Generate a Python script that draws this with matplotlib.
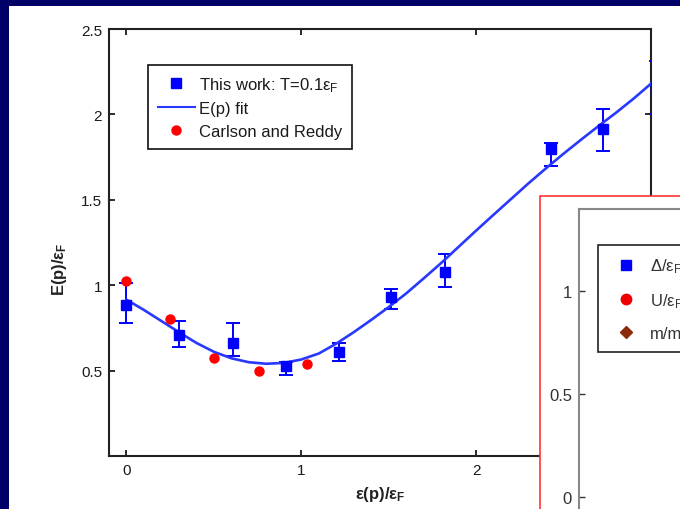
import matplotlib
matplotlib.use("Agg")
import matplotlib.pyplot as plt
from matplotlib.lines import Line2D
from matplotlib.patches import Rectangle

plt.rcParams['font.family'] = ['Liberation Sans', 'DejaVu Sans']
plt.rcParams['mathtext.default'] = 'regular'

# Quasiparticle dispersion, T = 0.1 eps_F
qmc_x = [0.0, 0.30, 0.61, 0.91, 1.215, 1.515, 1.82, 2.43, 2.725, 3.03]
qmc_y = [0.887, 0.709, 0.662, 0.529, 0.611, 0.93, 1.08, 1.80, 1.917, 2.15]
qmc_hi = [1.012, 0.79, 0.778, 0.553, 0.66, 0.975, 1.18, 1.833, 2.034, 2.31]
qmc_lo = [0.78, 0.64, 0.588, 0.475, 0.555, 0.862, 0.989, 1.70, 1.786, 2.00]

# Fitted E(p)
fit_x = [0.0, 0.1, 0.2, 0.3, 0.4, 0.5, 0.6, 0.7, 0.8, 0.9, 1.0,
         1.1, 1.2, 1.3, 1.4, 1.5, 1.6, 1.7, 1.8, 1.9, 2.0,
         2.1, 2.2, 2.3, 2.4, 2.5, 2.6, 2.7, 2.8, 2.9, 3.0]
fit_y = [0.915, 0.855, 0.79, 0.725, 0.662, 0.61, 0.572, 0.549, 0.540, 0.545, 0.565,
         0.60, 0.658, 0.725, 0.797, 0.872, 0.952, 1.04, 1.13, 1.225, 1.32,
         1.413, 1.505, 1.597, 1.685, 1.77, 1.852, 1.932, 2.01, 2.092, 2.18]

# Carlson and Reddy
cr_x = [0.0, 0.25, 0.50, 0.76, 1.03]
cr_y = [1.025, 0.80, 0.573, 0.497, 0.538]

x_ticks = [0, 1, 2, 3]
x_ticklabels = ['0', '1', '2', '3']
y_ticks = [0.5, 1.0, 1.5, 2.0, 2.5]
y_ticklabels = ['0.5', '1', '1.5', '2', '2.5']

inset_ticks = [0, 0.5, 1]
inset_ticklabels = ['0', '0.5', '1']
inset_labels = [r'$\Delta$/ε$_F$', 'U/ε$_F$', 'm/m*']

W, H = 680, 510
fig = plt.figure(figsize=(W / 100, H / 100), dpi=100, facecolor='#000066')

def fx(px):
    return px / W

def fy(py):
    return 1 - py / H

# white slide panel
fig.patches.append(Rectangle((fx(9), fy(520)), 1.0, fy(7) - fy(520),
                             transform=fig.transFigure, facecolor='white',
                             edgecolor='none', zorder=-5))

ax = fig.add_axes([fx(109), fy(457), fx(651) - fx(109), fy(30) - fy(457)],
                  zorder=1)
ax.set_xlim(-0.1, 3.0)
ax.set_ylim(0, 2.5)

blue = '#0000ff'
ax.errorbar(qmc_x, qmc_y,
            yerr=[[y - l for y, l in zip(qmc_y, qmc_lo)],
                  [h - y for y, h in zip(qmc_y, qmc_hi)]],
            fmt='none', ecolor=blue, elinewidth=1.4, capsize=5, capthick=1.4,
            zorder=3)
ax.plot(fit_x, fit_y, color='#2838ff', lw=1.9, zorder=4)
ax.plot(qmc_x, qmc_y, 's', color=blue, ms=7, zorder=5)
ax.plot(cr_x, cr_y, 'o', color='#ff0000', ms=7.5, mec='none', zorder=5)

ax.set_xticks(x_ticks)
ax.set_xticklabels(x_ticklabels)
ax.set_yticks(y_ticks)
ax.set_yticklabels(y_ticklabels)
ax.tick_params(direction='in', length=4, width=1.3, top=True, right=True,
               labelsize=11, colors='#1a1a1a', pad=5)
for s in ax.spines.values():
    s.set_linewidth(1.5)
    s.set_color('#222222')

ax.set_xlabel('ε(p)/ε$_F$', fontsize=12, fontweight='bold', color='#222222',
              labelpad=5)
ax.set_ylabel('E(p)/ε$_F$', fontsize=12, fontweight='bold', color='#222222')
ax.yaxis.set_label_coords(-0.074, 0.44)

handles = [
    Line2D([], [], ls='none', marker='s', color=blue, ms=7),
    Line2D([], [], color='#2838ff', lw=1.5),
    Line2D([], [], ls='none', marker='o', color='#ff0000', ms=7.5, mec='none'),
]
labels = ['This work: T=0.1ε$_F$', 'E(p) fit', 'Carlson and Reddy']
leg = ax.legend(handles, labels, loc='upper left',
                bbox_to_anchor=(fx(148), fy(66)), bbox_transform=fig.transFigure,
                borderaxespad=0, fontsize=12, handlelength=2.2,
                handletextpad=0.25, borderpad=0.6, labelspacing=0.45,
                fancybox=False, framealpha=1, edgecolor='#111111')
leg.get_frame().set_linewidth(1.2)
for t in leg.get_texts():
    t.set_color('#1a1a1a')

# inset panel with red border
fig.patches.append(Rectangle((fx(540), fy(540)), 0.5, fy(197) - fy(540),
                             transform=fig.transFigure, facecolor='white',
                             edgecolor='#ff3333', lw=1.2, zorder=10))

ins = fig.add_axes([fx(579), fy(518.6), fx(800) - fx(579), fy(210) - fy(518.6)],
                   zorder=11)
ins.set_xlim(0, 1)
ins.set_ylim(-0.1, 1.4)
ins.set_xticks([])
ins.set_yticks(inset_ticks)
ins.set_yticklabels(inset_ticklabels)
ins.tick_params(direction='in', length=4, width=1.0, labelsize=12,
                colors='#333333', pad=5)
for s in ins.spines.values():
    s.set_linewidth(1.5)
    s.set_color('#888888')

ins_handles = [
    Line2D([], [], ls='none', marker='s', color=blue, ms=6.5),
    Line2D([], [], ls='none', marker='o', color='#ee0000', ms=8.5, mec='none'),
    Line2D([], [], ls='none', marker='D', color='#8b2a0a', ms=6.5),
]
ileg = ins.legend(ins_handles, inset_labels, loc='upper left',
                  bbox_to_anchor=(fx(598), fy(246)), bbox_transform=fig.transFigure,
                  borderaxespad=0, fontsize=12, handlelength=2.0,
                  handletextpad=0.4, borderpad=0.7, labelspacing=0.95,
                  fancybox=False, framealpha=1, edgecolor='#222222')
ileg.get_frame().set_linewidth(1.2)
for t in ileg.get_texts():
    t.set_color('#333333')

fig.savefig('out.png', dpi=100, facecolor=fig.get_facecolor())
